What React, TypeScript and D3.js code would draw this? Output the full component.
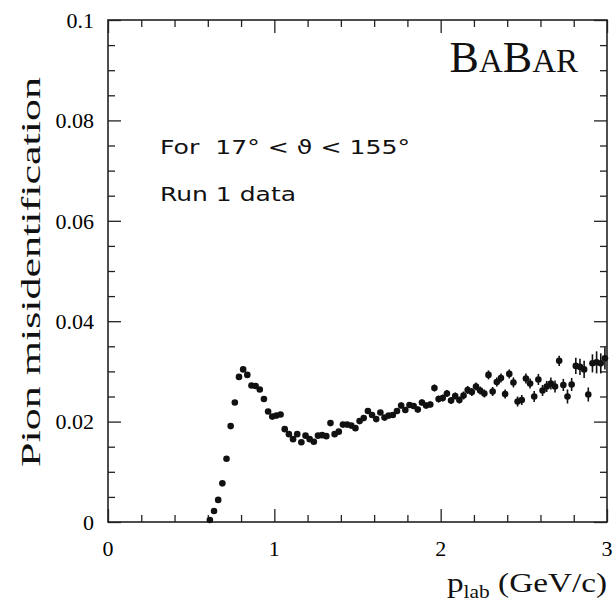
import React, { useEffect, useRef } from 'react'
import { select, scaleLinear, axisBottom, axisTop, axisLeft, axisRight } from 'd3'

// bin centres (GeV/c) and pion misidentification rate
const momentum = [
  0.6125, 0.6375, 0.6625, 0.6875, 0.7125, 0.7375, 0.7625, 0.7875, 0.8125, 0.8375, 0.8625, 0.8875, 0.9125, 0.9375, 0.9625, 0.9875,
  1.0125, 1.0375, 1.0625, 1.0875, 1.1125, 1.1375, 1.1625, 1.1875, 1.2125, 1.2375, 1.2625, 1.2875, 1.3125, 1.3375, 1.3625, 1.3875,
  1.4125, 1.4375, 1.4625, 1.4875, 1.5125, 1.5375, 1.5625, 1.5875, 1.6125, 1.6375, 1.6625, 1.6875, 1.7125, 1.7375, 1.7625, 1.7875,
  1.8125, 1.8375, 1.8625, 1.8875, 1.9125, 1.9375, 1.9625, 1.9875,
  2.0125, 2.0375, 2.0625, 2.0875, 2.1125, 2.1375, 2.1625, 2.1875, 2.2125, 2.2375, 2.2625, 2.2875, 2.3125, 2.3375, 2.3625, 2.3875,
  2.4125, 2.4375, 2.4625, 2.4875, 2.5125, 2.5375, 2.5625, 2.5875, 2.6125, 2.6375, 2.6625, 2.6875, 2.7125, 2.7375, 2.7625, 2.7875,
  2.8125, 2.8375, 2.8625, 2.8875, 2.9125, 2.9375, 2.9625, 2.9875,
]

const misid = [
  0.0004, 0.0022, 0.0044, 0.0077, 0.0126, 0.0191, 0.0238, 0.0289, 0.0304, 0.0293, 0.0272, 0.0271, 0.0264, 0.0245, 0.0220, 0.0210,
  0.0212, 0.0214, 0.0185, 0.0175, 0.0165, 0.0175, 0.0159, 0.0172, 0.0165, 0.0160, 0.0172, 0.0173, 0.0171, 0.0197, 0.0175, 0.0180,
  0.0194, 0.0194, 0.0192, 0.0187, 0.0201, 0.0207, 0.0221, 0.0213, 0.0205, 0.0218, 0.0208, 0.0212, 0.0213, 0.0221, 0.0232, 0.0223,
  0.0233, 0.0231, 0.0224, 0.0238, 0.0232, 0.0234, 0.0267, 0.0245,
  0.0247, 0.0256, 0.0242, 0.0251, 0.0243, 0.0252, 0.0263, 0.0259, 0.0270, 0.0262, 0.0256, 0.0293, 0.0260, 0.0279, 0.0287, 0.0255,
  0.0295, 0.0278, 0.0240, 0.0243, 0.0286, 0.0276, 0.0250, 0.0284, 0.0262, 0.0270, 0.0276, 0.0270, 0.0321, 0.0273, 0.0250, 0.0274,
  0.0311, 0.0309, 0.0304, 0.0254, 0.0316, 0.0318, 0.0316, 0.0326,
]

const errors = [
  0.0002, 0.0002, 0.0002, 0.0003, 0.0003, 0.0003, 0.0003, 0.0003, 0.0003, 0.0003, 0.0003, 0.0003, 0.0003, 0.0003, 0.0003, 0.0003,
  0.0003, 0.0003, 0.0003, 0.0003, 0.0003, 0.0003, 0.0003, 0.0003, 0.0003, 0.0003, 0.0003, 0.0003, 0.0003, 0.0004, 0.0004, 0.0004,
  0.0004, 0.0004, 0.0004, 0.0004, 0.0004, 0.0005, 0.0005, 0.0005, 0.0005, 0.0005, 0.0005, 0.0005, 0.0005, 0.0005, 0.0006, 0.0006,
  0.0006, 0.0006, 0.0006, 0.0006, 0.0006, 0.0006, 0.0007, 0.0007,
  0.0007, 0.0007, 0.0007, 0.0007, 0.0007, 0.0008, 0.0008, 0.0008, 0.0008, 0.0008, 0.0008, 0.0009, 0.0009, 0.0009, 0.0009, 0.0009,
  0.0009, 0.0010, 0.0010, 0.0010, 0.0010, 0.0010, 0.0011, 0.0011, 0.0011, 0.0011, 0.0012, 0.0012, 0.0010, 0.0012, 0.0014, 0.0013,
  0.0016, 0.0016, 0.0017, 0.0014, 0.0018, 0.0022, 0.0020, 0.0022,
]

const xMinorTicks = [0.2, 0.4, 0.6, 0.8, 1.2, 1.4, 1.6, 1.8, 2.2, 2.4, 2.6, 2.8]
const xMajorTicks = [0, 1, 2, 3]
const yMinorTicks = [0.005, 0.01, 0.015, 0.025, 0.03, 0.035, 0.045, 0.05, 0.055, 0.065, 0.07, 0.075, 0.085, 0.09, 0.095]
const yMajorTicks = [0, 0.02, 0.04, 0.06, 0.08, 0.1]
const yTickLabels = ['0', '0.02', '0.04', '0.06', '0.08', '0.1']

const left = 108
const right = 607
const top = 20
const bottom = 522

const App = () => {
  const svgRef = useRef()

  useEffect(() => {
    const svg = select(svgRef.current)
    const xScale = scaleLinear().domain([0, 3]).range([left, right])
    const yScale = scaleLinear().domain([0, 0.1]).range([bottom, top])

    const frame = svg.select('.frame')
    frame.selectAll('*').remove()

    const drawAxis = (axisGen, scale, values, size, transform) => {
      const g = frame.append('g').attr('transform', transform)
      g.call(axisGen(scale).tickValues(values).tickSize(size).tickFormat(() => ''))
      g.select('.domain').remove()
      g.selectAll('line').attr('stroke', '#222').attr('stroke-width', 1.3)
    }

    drawAxis(axisBottom, xScale, xMinorTicks, -7, `translate(0,${bottom})`)
    drawAxis(axisBottom, xScale, xMajorTicks, -13, `translate(0,${bottom})`)
    drawAxis(axisTop, xScale, xMinorTicks, -7, `translate(0,${top})`)
    drawAxis(axisTop, xScale, xMajorTicks, -13, `translate(0,${top})`)
    drawAxis(axisLeft, yScale, yMinorTicks, -7, `translate(${left},0)`)
    drawAxis(axisLeft, yScale, yMajorTicks, -13, `translate(${left},0)`)
    drawAxis(axisRight, yScale, yMinorTicks, -7, `translate(${right},0)`)
    drawAxis(axisRight, yScale, yMajorTicks, -13, `translate(${right},0)`)

    frame.append('rect')
      .attr('x', left).attr('y', top)
      .attr('width', right - left).attr('height', bottom - top)
      .attr('fill', 'none').attr('stroke', '#222').attr('stroke-width', 1.6)

    // tick labels
    frame.selectAll('.ylab')
      .data(yMajorTicks)
      .join('text')
      .attr('class', 'ylab')
      .attr('x', left - 14)
      .attr('y', d => yScale(d))
      .attr('dy', '0.35em')
      .attr('text-anchor', 'end')
      .attr('font-family', '"Liberation Serif", "Times New Roman", serif')
      .attr('font-size', 22)
      .text((d, i) => yTickLabels[i])

    frame.selectAll('.xlab')
      .data(xMajorTicks)
      .join('text')
      .attr('class', 'xlab')
      .attr('x', d => xScale(d))
      .attr('y', bottom + 34)
      .attr('text-anchor', 'middle')
      .attr('font-family', '"Liberation Serif", "Times New Roman", serif')
      .attr('font-size', 22)
      .text(d => String(d))

    // data points
    const pts = svg.select('.points')
    pts.selectAll('*').remove()
    const data = momentum.map((p, i) => ({ p, v: misid[i], e: errors[i] }))

    pts.selectAll('line')
      .data(data)
      .join('line')
      .attr('x1', d => xScale(d.p))
      .attr('x2', d => xScale(d.p))
      .attr('y1', d => yScale(d.v - d.e))
      .attr('y2', d => yScale(d.v + d.e))
      .attr('stroke', '#111')
      .attr('stroke-width', 1.6)

    pts.selectAll('circle')
      .data(data)
      .join('circle')
      .attr('cx', d => xScale(d.p))
      .attr('cy', d => yScale(d.v))
      .attr('r', 3.3)
      .attr('fill', '#111')
  }, [])

  const serif = '"Liberation Serif", "Times New Roman", serif'
  const sans = '"DejaVu Sans", "Liberation Sans", sans-serif'

  return (
    <svg ref={svgRef} width={615} height={606} style={{ position: 'absolute', left: 0, top: 0, background: '#fff' }}>
      <g className="frame" />
      <g className="points" />
      <text x={0} y={0} transform="translate(40,272) rotate(-90)" textAnchor="middle" fontFamily={serif} fontSize={28}
        textLength={390} lengthAdjust="spacingAndGlyphs" fill="#111">
        Pion misidentification
      </text>
      <text x={607} y={592} textAnchor="end" fontFamily={serif} fontSize={28} textLength={160}
        lengthAdjust="spacingAndGlyphs" fill="#111">
        p<tspan fontSize={18} dy={6}>lab</tspan><tspan dy={-6}> (GeV/c)</tspan>
      </text>
      <text x={578} y={72} textAnchor="end" fontFamily={serif} fill="#111">
        <tspan fontSize={44}>B</tspan><tspan fontSize={33}>A</tspan><tspan fontSize={44}>B</tspan><tspan fontSize={33}>AR</tspan>
      </text>
      <text x={160} y={154} fontFamily={sans} fontSize={20} textLength={250} lengthAdjust="spacingAndGlyphs"
        fill="#111" style={{ whiteSpace: 'pre' }}>
        {'For  17° < ϑ < 155°'}
      </text>
      <text x={160} y={201} fontFamily={sans} fontSize={20} textLength={136} lengthAdjust="spacingAndGlyphs" fill="#111">
        Run 1 data
      </text>
    </svg>
  )
}

export default App
